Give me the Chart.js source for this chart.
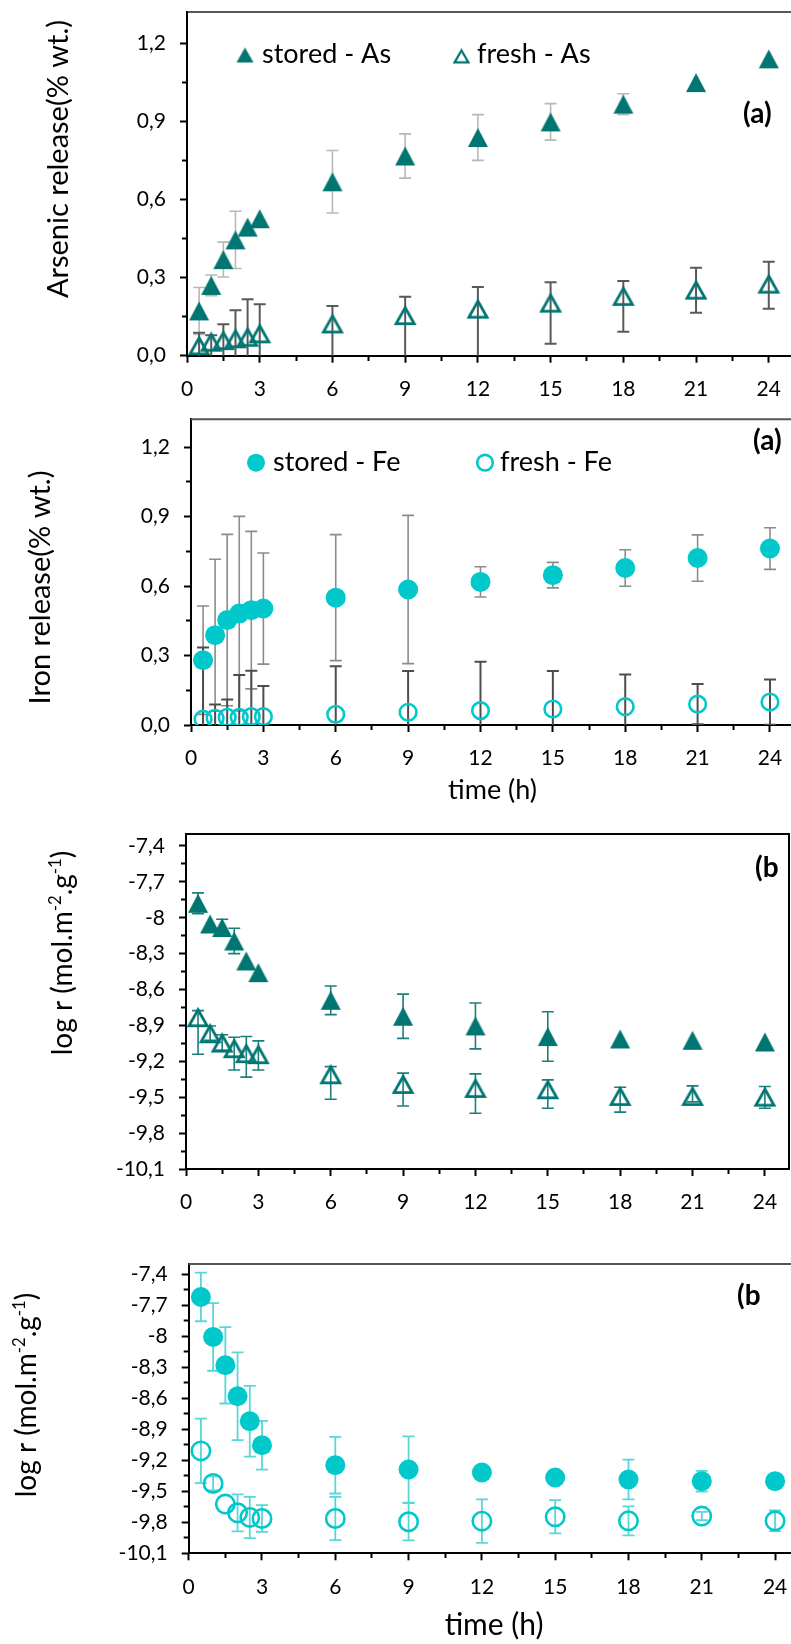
<!DOCTYPE html>
<html>
<head>
<meta charset="utf-8">
<title>Arsenic and iron release</title>
<script src="https://cdn.jsdelivr.net/npm/chart.js@4.4.1/dist/chart.umd.min.js"></script>
<style>
  html, body { margin: 0; padding: 0; background: #fff; }
  body { width: 791px; height: 1644px; overflow: hidden; position: relative; }
  .panel { position: absolute; left: 0; }
  .panel canvas { display: block; }
</style>
</head>
<body>
<div class="panel" id="asRelease"><canvas></canvas></div>
<div class="panel" id="feRelease"><canvas></canvas></div>
<div class="panel" id="asRate"><canvas></canvas></div>
<div class="panel" id="feRate"><canvas></canvas></div>
<script>
// sampling times (h)
var hours = [0.5, 1, 1.5, 2, 2.5, 3, 6, 9, 12, 15, 18, 21, 24];

// tick positions, every other one gets a label
var timeTicks = [0, 1.5, 3, 4.5, 6, 7.5, 9, 10.5, 12, 13.5, 15, 16.5, 18, 19.5, 21, 22.5, 24];
var releaseTicks = [0, 0.15, 0.3, 0.45, 0.6, 0.75, 0.9, 1.05, 1.2];
var rateTicks = [-10.1, -9.95, -9.8, -9.65, -9.5, -9.35, -9.2, -9.05, -8.9, -8.75,
                 -8.6, -8.45, -8.3, -8.15, -8, -7.85, -7.7, -7.55, -7.4];

// arsenic release (% wt.)
var storedAs      = [0.172, 0.27, 0.369, 0.445, 0.494, 0.526, 0.668, 0.767, 0.838, 0.898, 0.966, 1.049, 1.14];
var storedAsErr   = [0.09, 0.04, 0.067, 0.11, 0, 0, 0.12, 0.085, 0.088, 0.07, 0.04, 0, 0];
var freshAs       = [0.04, 0.054, 0.06, 0.067, 0.073, 0.086, 0.124, 0.156, 0.181, 0.204, 0.23, 0.254, 0.277];
var freshAsErrUp  = [0.048, 0.025, 0.061, 0.108, 0.144, 0.112, 0.067, 0.07, 0.083, 0.078, 0.057, 0.084, 0.084];
var freshAsErrLow = [0.06, 0.06, 0.07, 0.1, 0.14, 0.11, 0.19, 0.2, 0.2, 0.158, 0.138, 0.089, 0.097];

// iron release (% wt.)
var storedFe    = [0.28, 0.388, 0.453, 0.481, 0.496, 0.503, 0.55, 0.585, 0.618, 0.647, 0.678, 0.721, 0.762];
var storedFeErr = [0.234, 0.328, 0.37, 0.42, 0.34, 0.24, 0.272, 0.32, 0.065, 0.055, 0.079, 0.1, 0.09];
var freshFe     = [0.025, 0.029, 0.033, 0.033, 0.036, 0.036, 0.046, 0.055, 0.062, 0.069, 0.079, 0.09, 0.099];
var freshFeErr  = [0.31, 0.06, 0.077, 0.183, 0.198, 0.132, 0.208, 0.178, 0.211, 0.164, 0.139, 0.087, 0.098];

// log r, arsenic (mol.m-2.g-1)
var storedAsLog       = [-7.879, -8.052, -8.082, -8.194, -8.361, -8.459, -8.69, -8.823, -8.904, -8.993, -9.013, -9.024, -9.038];
var storedAsLogErr    = [0.087, 0, 0.07, 0.106, 0, 0, 0.12, 0.185, 0.192, 0.207, 0, 0, 0];
var freshAsLog        = [-8.831, -8.965, -9.043, -9.09, -9.132, -9.14, -9.308, -9.389, -9.422, -9.433, -9.489, -9.489, -9.495];
var freshAsLogErrUp   = [0.055, 0.06, 0.065, 0.091, 0.139, 0.111, 0.064, 0.09, 0.117, 0.078, 0.072, 0.084, 0.084];
var freshAsLogErrLow  = [0.31, 0.06, 0.065, 0.182, 0.2, 0.132, 0.209, 0.184, 0.212, 0.159, 0.136, 0.05, 0.097];

// log r, iron (mol.m-2.g-1)
var storedFeLog    = [-7.619, -8.006, -8.28, -8.58, -8.822, -9.054, -9.247, -9.289, -9.318, -9.366, -9.386, -9.402, -9.402];
var storedFeLogErr = [0.235, 0.327, 0.37, 0.425, 0.343, 0.236, 0.274, 0.32, 0, 0, 0.192, 0.1, 0];
var freshFeLog     = [-9.109, -9.424, -9.624, -9.708, -9.753, -9.763, -9.763, -9.795, -9.789, -9.747, -9.786, -9.74, -9.786];
var freshFeLogErr  = [0.312, 0.068, 0, 0.179, 0.2, 0.129, 0.21, 0.18, 0.211, 0.161, 0.14, 0.04, 0.1];

var AS_COLOR = '#007571';
var FE_COLOR = '#00c8cb';
var FONT = 'Lato, "Open Sans", sans-serif';

Chart.defaults.font.family = FONT;
Chart.defaults.color = '#000';

// Excel-like triangle: the box centre sits on the data point
function triangle(color, filled, w, h, lw) {
  var pad = 3;
  var c = document.createElement('canvas');
  c.width = w + pad * 2;
  c.height = h + pad * 2;
  var g = c.getContext('2d');
  var inset = filled ? 0 : lw / 2;
  g.beginPath();
  g.moveTo(c.width / 2, pad + inset * 1.8);
  g.lineTo(pad + w - inset * 1.4, pad + h - inset);
  g.lineTo(pad + inset * 1.4, pad + h - inset);
  g.closePath();
  if (filled) {
    g.fillStyle = color;
    g.fill();
  } else {
    g.strokeStyle = color;
    g.lineWidth = lw;
    g.stroke();
  }
  return c;
}

var triFull = triangle(AS_COLOR, true, 20, 19, 0);
var triOpen = triangle(AS_COLOR, false, 22, 20, 2.8);
var triFullSmall = triangle(AS_COLOR, true, 17, 15, 0);
var triOpenSmall = triangle(AS_COLOR, false, 17, 15, 2.2);

function points(values) {
  return hours.map(function (h, i) { return {x: h, y: values[i]}; });
}

// vertical error bars with caps, drawn under the markers
var errorBars = {
  id: 'errorBars',
  beforeDatasetsDraw: function (chart) {
    var ctx = chart.ctx, area = chart.chartArea;
    var xs = chart.scales.x, ys = chart.scales.y;
    ctx.save();
    ctx.beginPath();
    ctx.rect(area.left, area.top, area.right - area.left, area.bottom - area.top);
    ctx.clip();
    chart.data.datasets.forEach(function (ds) {
      if (!ds.errUp) return;
      var low = ds.errLow || ds.errUp;
      ctx.strokeStyle = ds.errColor;
      ctx.lineWidth = ds.errWidth;
      ds.data.forEach(function (pt, i) {
        if (!ds.errUp[i] && !low[i]) return;
        var px = xs.getPixelForValue(pt.x);
        var top = ys.getPixelForValue(pt.y + ds.errUp[i]);
        var bot = ys.getPixelForValue(pt.y - low[i]);
        ctx.beginPath();
        ctx.moveTo(px, top);
        ctx.lineTo(px, bot);
        ctx.moveTo(px - 6, top);
        ctx.lineTo(px + 6, top);
        ctx.moveTo(px - 6, bot);
        ctx.lineTo(px + 6, bot);
        ctx.stroke();
      });
    });
    ctx.restore();
  }
};

// top / right edges of the plot box
function frame(sides) {
  return {
    id: 'frame',
    beforeDatasetsDraw: function (chart) {
      var ctx = chart.ctx, a = chart.chartArea;
      ctx.save();
      if (sides.top) {
        ctx.strokeStyle = sides.top.color;
        ctx.lineWidth = sides.top.width;
        ctx.beginPath();
        ctx.moveTo(a.left, a.top);
        ctx.lineTo(a.right + 1, a.top);
        ctx.stroke();
      }
      if (sides.right) {
        ctx.strokeStyle = sides.right.color;
        ctx.lineWidth = sides.right.width;
        ctx.beginPath();
        ctx.moveTo(a.right, a.top);
        ctx.lineTo(a.right, a.bottom);
        ctx.stroke();
      }
      ctx.restore();
    }
  };
}

// rotated y title (with superscripts), legend row and panel tag
function panelText(p) {
  return {
    id: 'panelText',
    afterDraw: function (chart) {
      var ctx = chart.ctx, dy = p.top;
      var t = p.yTitle;
      ctx.save();
      ctx.fillStyle = '#000';
      ctx.textBaseline = 'alphabetic';
      ctx.textAlign = 'left';
      ctx.translate(t.x, t.y - dy);
      ctx.rotate(-Math.PI / 2);
      var widths = t.parts.map(function (part) {
        ctx.font = (part.sup ? t.size * 0.6 : t.size) + 'px ' + FONT;
        return ctx.measureText(part.text).width;
      });
      var pos = -widths.reduce(function (a, b) { return a + b; }, 0) / 2;
      t.parts.forEach(function (part, i) {
        ctx.font = (part.sup ? t.size * 0.6 : t.size) + 'px ' + FONT;
        ctx.fillText(part.text, pos, part.sup ? -t.size * 0.38 : 0);
        pos += widths[i];
      });
      ctx.restore();

      ctx.save();
      ctx.fillStyle = '#000';
      ctx.textBaseline = 'alphabetic';
      (p.legend || []).forEach(function (item) {
        var my = item.my - dy;
        if (item.marker === 'triFull' || item.marker === 'triOpen') {
          var img = item.marker === 'triFull' ? triFullSmall : triOpenSmall;
          ctx.drawImage(img, item.mx - img.width / 2, my - img.height / 2);
        } else {
          ctx.beginPath();
          if (item.marker === 'dotFull') {
            ctx.arc(item.mx, my, 9, 0, Math.PI * 2);
            ctx.fillStyle = FE_COLOR;
            ctx.fill();
          } else {
            ctx.arc(item.mx, my, 7.8, 0, Math.PI * 2);
            ctx.strokeStyle = FE_COLOR;
            ctx.lineWidth = 2.6;
            ctx.stroke();
          }
          ctx.fillStyle = '#000';
        }
        ctx.font = p.legendSize + 'px ' + FONT;
        ctx.fillText(item.label, item.tx, item.ty - dy);
      });
      ctx.font = 'bold ' + p.tag.size + 'px ' + FONT;
      ctx.fillText(p.tag.text, p.tag.x, p.tag.y - dy);
      ctx.restore();
    }
  };
}

function fmtRelease(v) { return v.toFixed(1).replace('.', ','); }
function fmtRate(v) { return String(Number(v.toFixed(1))).replace('.', ','); }

function makePanel(id, p) {
  var box = document.getElementById(id);
  box.style.top = p.top + 'px';
  var canvas = box.querySelector('canvas');
  canvas.width = p.width;
  canvas.height = Math.round(p.bottom - p.top + p.xHeight);
  var xHeight = canvas.height - (p.bottom - p.top);

  new Chart(canvas, {
    type: 'scatter',
    data: {datasets: p.datasets},
    options: {
      responsive: false,
      animation: false,
      events: [],
      layout: {autoPadding: false, padding: {top: p.areaTop - p.top, left: 0, right: p.width - p.right, bottom: 0}},
      plugins: {legend: {display: false}, tooltip: {enabled: false}},
      scales: {
        x: {
          type: 'linear', min: 0, max: 25,
          afterBuildTicks: function (s) { s.ticks = timeTicks.map(function (v) { return {value: v}; }); },
          afterFit: function (s) {
            s.height = xHeight;
            s.paddingLeft = 0;
            s.paddingRight = 0;
          },
          border: {color: '#000', width: 2},
          grid: {
            drawOnChartArea: false, tickLength: 7, tickWidth: 2, tickColor: '#000',
            tickBorderDash: function (c) { return c.index % 2 ? [4, 20] : []; }
          },
          ticks: {
            autoSkip: false, maxRotation: 0, padding: 14, font: {size: 21},
            callback: function (v, i) { return i % 2 ? '' : String(v); }
          },
          title: p.xTitle ? {display: true, text: 'time (h)', font: {size: p.xTitle}, padding: {top: 0, bottom: 1}} : {display: false}
        },
        y: {
          type: 'linear', min: p.yMin, max: p.yMax,
          afterBuildTicks: function (s) { s.ticks = p.yTicks.map(function (v) { return {value: v}; }); },
          afterFit: function (s) {
            s.width = p.left;
            s.paddingTop = 0;
            s.paddingBottom = 0;
          },
          border: {color: '#000', width: 2},
          grid: {
            drawOnChartArea: false, tickLength: 7, tickWidth: 2, tickColor: '#000',
            tickBorderDash: function (c) { return c.index % 2 ? [0, 2, 5, 20] : []; }
          },
          ticks: {
            autoSkip: false, padding: 14, font: {size: 21},
            callback: function (v, i) { return i % 2 ? '' : p.fmt(v); }
          }
        }
      }
    },
    plugins: [errorBars, frame(p.frame), panelText(p)]
  });
}

// (a) arsenic release
makePanel('asRelease', {
  top: 0, areaTop: 12, left: 187, bottom: 355.7, right: 793, width: 805, xHeight: 54,
  yMin: 0, yMax: 1.32, yTicks: releaseTicks, fmt: fmtRelease,
  frame: {top: {color: '#1f1f1f', width: 1.5}},
  yTitle: {x: 68, y: 159, size: 29, parts: [{text: 'Arsenic release(% wt.)'}]},
  legendSize: 27,
  legend: [
    {marker: 'triFull', mx: 245, my: 55, label: 'stored - As', tx: 262, ty: 63},
    {marker: 'triOpen', mx: 461.5, my: 56, label: 'fresh - As', tx: 477, ty: 63}
  ],
  tag: {text: '(a)', x: 743, y: 123, size: 28},
  datasets: [
    {data: points(storedAs), pointStyle: triFull, pointRadius: 10,
     errUp: storedAsErr, errColor: '#b8b8b8', errWidth: 1.6},
    {data: points(freshAs), pointStyle: triOpen, pointRadius: 10,
     errUp: freshAsErrUp, errLow: freshAsErrLow, errColor: '#595959', errWidth: 2}
  ]
});

// (a) iron release
makePanel('feRelease', {
  top: 405, areaTop: 419.3, left: 191, bottom: 725, right: 794.1, width: 805, xHeight: 82, xTitle: 27,
  yMin: 0, yMax: 1.32, yTicks: releaseTicks, fmt: fmtRelease,
  frame: {top: {color: '#555', width: 2}},
  yTitle: {x: 50, y: 587.5, size: 29, parts: [{text: 'Iron release(% wt.)'}]},
  legendSize: 27,
  legend: [
    {marker: 'dotFull', mx: 256, my: 462.7, label: 'stored - Fe', tx: 273, ty: 471},
    {marker: 'dotOpen', mx: 485, my: 462.7, label: 'fresh - Fe', tx: 500, ty: 471}
  ],
  tag: {text: '(a)', x: 753, y: 450, size: 28},
  datasets: [
    {data: points(storedFe), pointStyle: 'circle', pointRadius: 10, borderWidth: 0,
     backgroundColor: FE_COLOR, errUp: storedFeErr, errColor: '#8c8c8c', errWidth: 1.6},
    {data: points(freshFe), pointStyle: 'circle', pointRadius: 8.3, borderWidth: 2.6,
     borderColor: FE_COLOR, backgroundColor: 'rgba(0,0,0,0)',
     errUp: freshFeErr, errColor: '#4d4d4d', errWidth: 2}
  ]
});

// (b) arsenic dissolution rate
var rateTitle = [
  {text: 'log r (mol.m'}, {text: '-2', sup: true}, {text: '.g'}, {text: '-1', sup: true}, {text: ')'}
];

makePanel('asRate', {
  top: 820, areaTop: 834, left: 186, bottom: 1169, right: 789, width: 805, xHeight: 52,
  yMin: -10.1, yMax: -7.3, yTicks: rateTicks, fmt: fmtRate,
  frame: {top: {color: '#000', width: 2}, right: {color: '#000', width: 2}},
  yTitle: {x: 71.7, y: 953, size: 28, parts: rateTitle},
  legend: [],
  tag: {text: '(b', x: 755, y: 877, size: 28},
  datasets: [
    {data: points(storedAsLog), pointStyle: triFull, pointRadius: 10,
     errUp: storedAsLogErr, errColor: '#1b7f7b', errWidth: 1.6},
    {data: points(freshAsLog), pointStyle: triOpen, pointRadius: 10,
     errUp: freshAsLogErrUp, errLow: freshAsLogErrLow, errColor: '#1b7f7b', errWidth: 1.6}
  ]
});

// (b) iron dissolution rate
makePanel('feRate', {
  top: 1250, areaTop: 1264, left: 188.7, bottom: 1553.3, right: 799.5, width: 815, xHeight: 91, xTitle: 30,
  yMin: -10.1, yMax: -7.3, yTicks: rateTicks, fmt: fmtRate,
  frame: {top: {color: '#555', width: 2}},
  yTitle: {x: 36, y: 1395, size: 28, parts: rateTitle},
  legend: [],
  tag: {text: '(b', x: 737, y: 1305, size: 28},
  datasets: [
    {data: points(storedFeLog), pointStyle: 'circle', pointRadius: 10, borderWidth: 0,
     backgroundColor: FE_COLOR, errUp: storedFeLogErr, errColor: '#5ad6d8', errWidth: 1.8},
    {data: points(freshFeLog), pointStyle: 'circle', pointRadius: 9.2, borderWidth: 2.6,
     borderColor: FE_COLOR, backgroundColor: 'rgba(0,0,0,0)',
     errUp: freshFeLogErr, errColor: '#5ad6d8', errWidth: 1.8}
  ]
});
</script>
</body>
</html>
